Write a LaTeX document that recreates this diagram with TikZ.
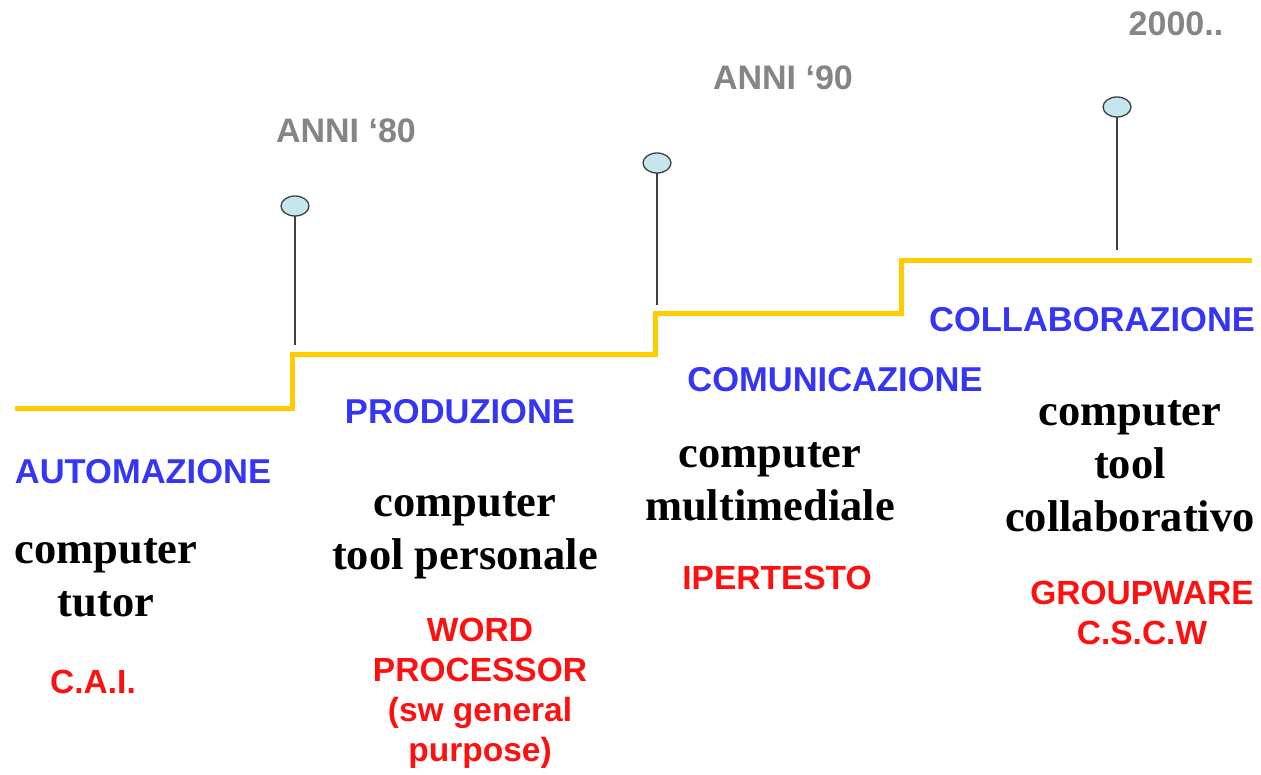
\documentclass[tikz,border=0pt]{standalone}
\usepackage{fontspec}
\setmainfont{Liberation Serif}
\newfontfamily\arialfont{Liberation Sans}
\usepackage{tikz}
\usepackage{xcolor}
\usetikzlibrary{positioning,shapes.geometric}

\definecolor{stepyellow}{HTML}{FFCC00}
\definecolor{pinblue}{HTML}{C4E6EC}
\definecolor{eragray}{HTML}{858585}
\definecolor{phaseblue}{HTML}{3535F5}
\definecolor{toolred}{HTML}{FF1010}

\begin{document}
\begin{tikzpicture}[x=1pt,y=-1pt,
    era/.style={font=\arialfont\bfseries\fontsize{34}{40}\selectfont,text=eragray,inner sep=0pt},
    phase/.style={font=\arialfont\bfseries\fontsize{34.5}{40}\selectfont,text=phaseblue,inner sep=0pt},
    role/.style={font=\bfseries\fontsize{44.5}{53}\selectfont,align=center,inner sep=0pt},
    tool/.style={font=\arialfont\bfseries\fontsize{33.5}{40}\selectfont,text=toolred,align=center,inner sep=0pt},
    pin/.style={ellipse,draw=black!75,fill=pinblue,line width=1.3pt,minimum width=28,minimum height=20,inner sep=0pt}]
  \useasboundingbox (0,0) rectangle (1261,774);
  % --- yellow steps ---
  \draw[stepyellow,line width=5pt]
    (15,408) -- (292,408) -- (292,354) -- (655,354) -- (655,313)
    -- (901,313) -- (901,260) -- (1252,260);
  % --- pins ---
  \foreach \name/\x/\y/\top in {p80/295/206/345,p90/657/163/305,p00/1117/107/250}{
    \coordinate (\name foot) at (\x,\top);
    \draw[black!75,line width=1.2pt] (\x,\y) -- (\name foot);
    \node[pin] (\name) at (\x,\y) {};
  }
  % --- eras ---
  \node[era] (anni80) at (346,131) {ANNI ‘80};
  \node[era] (anni90) at (783,78) {ANNI ‘90};
  \node[era] (anni00) at (1176,24) {2000..};
  % --- automazione ---
  \node[phase] (auto) at (143,472) {AUTOMAZIONE};
  \node[role] (tutor) at (106,578) {computer\\tutor};
  \node[tool] (cai) at (93,682) {C.A.I.};
  % --- produzione ---
  \node[phase] (prod) at (460,412) {PRODUZIONE};
  \node[role] (pers) at (465,535) {computer\\tool personale};
  \node[tool] (word) at (480,693) {WORD\\PROCESSOR\\(sw general\\purpose)};
  % --- comunicazione ---
  \node[phase] (comu) at (835,380) {COMUNICAZIONE};
  \node[role] (multi) at (770,482) {computer\\multimediale};
  \node[tool] (iper) at (777,578) {IPERTESTO};
  % --- collaborazione ---
  \node[phase] (coll) at (1092,320) {COLLABORAZIONE};
  \node[role] (collab) at (1130,466) {computer\\tool\\collaborativo};
  \node[tool] (group) at (1142,613) {GROUPWARE\\C.S.C.W};
\end{tikzpicture}
\end{document}
